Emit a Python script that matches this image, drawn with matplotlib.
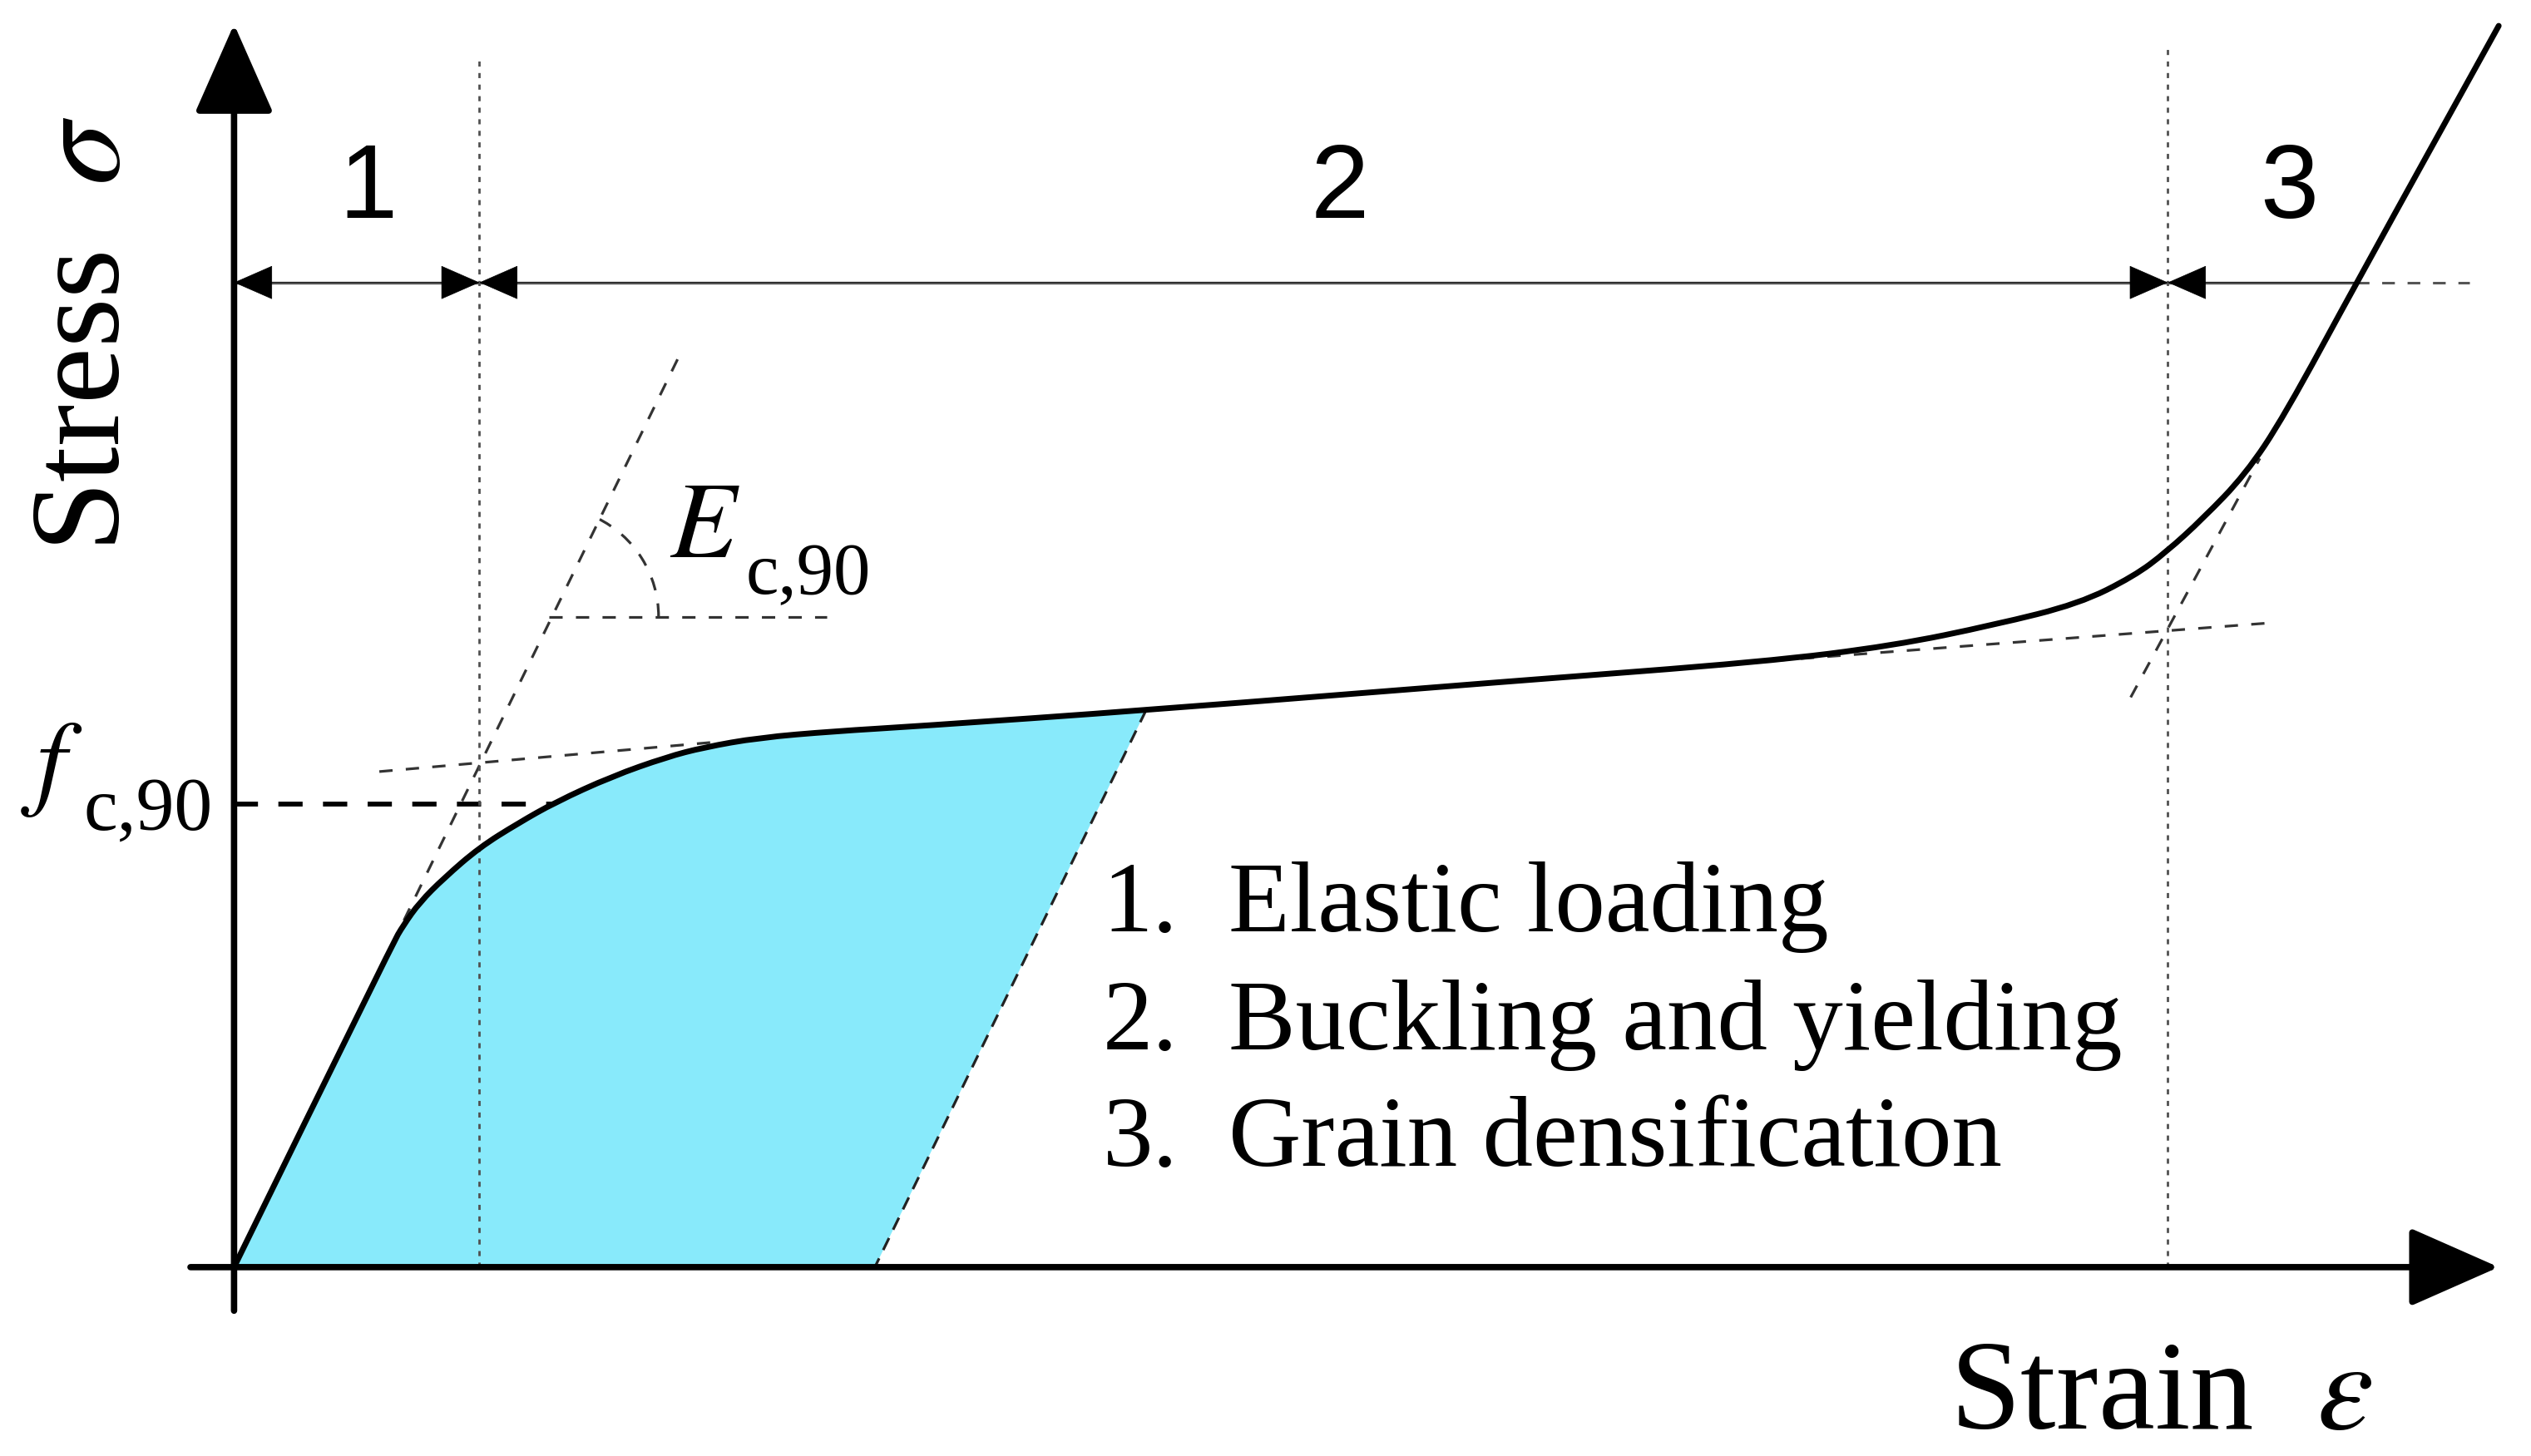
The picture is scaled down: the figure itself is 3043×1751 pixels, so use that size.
import numpy as np
import matplotlib
matplotlib.use("Agg")
import matplotlib.pyplot as plt
from matplotlib.patches import Arc, PathPatch
from matplotlib.path import Path

plt.rcParams['font.family'] = ['Liberation Serif', 'DejaVu Serif']
plt.rcParams['mathtext.fontset'] = 'stix'

# stress-strain curve (schematic units)
strain = [0.00, 0.98, 1.05, 1.15, 1.30, 1.52, 1.76, 1.99, 2.34, 2.68, 2.91, 3.25,
          3.72, 4.22, 5.65, 7.91, 9.48, 10.28, 10.91, 11.43, 11.77, 11.97, 12.20,
          12.46, 12.70, 13.15, 14.03]
stress = [0.00, 2.00, 2.12, 2.26, 2.41, 2.60, 2.75, 2.88, 3.04, 3.16, 3.22, 3.28,
          3.32, 3.35, 3.45, 3.63, 3.75, 3.85, 3.98, 4.11, 4.28, 4.43, 4.64,
          4.91, 5.27, 6.10, 7.69]

unload_at = 14          # index of the unloading point on the curve
unload_end = 3.97       # residual strain after unloading
f_c90 = 2.87
b1, b2 = 1.52, 11.98    # region boundaries
dim_y = 6.10

region_labels = ['1', '2', '3']
region_x = [0.83, 6.85, 12.73]
legend_items = ['Elastic loading', 'Buckling and yielding', 'Grain densification']
legend_y = [2.08, 1.35, 0.63]

cyan = '#88EAFB'
grey = '#505050'

fig = plt.figure(figsize=(30.43, 17.51), dpi=100)
ax = fig.add_axes([0, 0, 1, 1])
ax.set_xlim(-1.45, 14.23)
ax.set_ylim(-1.17, 7.85)
ax.axis('off')

# shaded energy area
fx = strain[:unload_at + 1] + [unload_end]
fy = stress[:unload_at + 1] + [0.0]
ax.fill(fx, fy, color=cyan, lw=0, zorder=1)

# unloading line
ax.plot([strain[unload_at], unload_end], [stress[unload_at], 0], color='#222222',
        lw=2.3, dashes=(5, 3.5), zorder=3)

# construction lines
dash = dict(color='#333333', lw=2.3, dashes=(5, 5), zorder=2)
ax.plot([0.98, 2.77], [2.00, 5.67], **dash)           # elastic tangent
ax.plot([0.90, 2.95], [3.07, 3.25], **dash)           # plateau tangent
ax.plot([1.95, 3.67], [4.03, 4.03], **dash)           # E reference
ax.add_patch(Arc((1.95, 4.03), 1.36, 1.36, theta1=0, theta2=64,
                 color='#333333', lw=2.3, ls=(0, (5, 5)), zorder=2))
ax.plot([9.05, 12.60], [3.72, 3.99], **dash)          # plateau tangent (3)
ax.plot([11.75, 12.55], [3.53, 5.01], **dash)         # densification tangent
ax.plot([0, 1.97], [f_c90, f_c90], color='black', lw=4.2, dashes=(5, 4.2), zorder=2)

# region boundaries
ax.plot([b1, b1], [0, 7.48], color=grey, lw=2.0, dashes=(2.2, 2.8), zorder=2)
ax.plot([b2, b2], [0, 7.55], color=grey, lw=2.0, dashes=(2.2, 2.8), zorder=2)

# dimension line
ax.plot([0, 13.15], [dim_y, dim_y], color='#555555', lw=2.4, zorder=2)
ax.plot([13.15, 13.85], [dim_y, dim_y], color='#555555', lw=2.2, dashes=(5, 5), zorder=2)
ap = dict(arrowstyle='<|-|>,head_length=32,head_width=14', mutation_scale=1,
          color='black', lw=0.5, shrinkA=0, shrinkB=0)
ax.annotate('', xy=(0, dim_y), xytext=(b1, dim_y), arrowprops=ap)
ax.annotate('', xy=(b1, dim_y), xytext=(b2, dim_y), arrowprops=ap)
ap1 = dict(ap, arrowstyle='-|>,head_length=32,head_width=14')
ax.annotate('', xy=(b2, dim_y), xytext=(13.15, dim_y), arrowprops=ap1)

# curve: read points used as quadratic bezier controls for a smooth line
pts = np.column_stack([strain, stress])
verts = [pts[0]]
codes = [Path.MOVETO]
for i in range(1, len(pts) - 1):
    verts += [pts[i], (pts[i] + pts[i + 1]) / 2]
    codes += [Path.CURVE3, Path.CURVE3]
verts.append(pts[-1])
codes.append(Path.LINETO)
ax.add_patch(PathPatch(Path(verts, codes), fill=False, edgecolor='black', lw=5,
                       joinstyle='round', capstyle='round', zorder=4))

# axes with arrows
ax_ap = dict(arrowstyle='-|>,head_length=68,head_width=30', mutation_scale=1,
             color='black', lw=5.5, shrinkA=0, shrinkB=0)
ax.annotate('', xy=(0, 7.70), xytext=(0, -0.27), arrowprops=ax_ap, zorder=5)
ax.annotate('', xy=(14.03, 0), xytext=(-0.27, 0), arrowprops=ax_ap, zorder=5)

# text
for lab, x in zip(region_labels, region_x):
    ax.text(x, 6.67, lab, fontsize=91, family='Liberation Sans',
            ha='center', va='center')
for i, (item, y) in enumerate(zip(legend_items, legend_y)):
    ax.text(5.38, y, f'{i + 1}.', fontsize=87, ha='left', va='baseline')
    ax.text(6.16, y, item, fontsize=87, ha='left', va='baseline')

ax.text(-0.90, 5.78, r'Stress  $\sigma$', fontsize=110, rotation=90,
        ha='center', va='center')
ax.text(11.94, -1.00, r'Strain  $\varepsilon$', fontsize=110,
        ha='center', va='baseline')

# f_c,90 and E_c,90 labels
ax.text(-1.32, 2.92, r'$f$', fontsize=92, ha='left', va='baseline')
ax.text(-0.93, 2.71, 'c,90', fontsize=66, ha='left', va='baseline')
ax.text(2.70, 4.40, r'$E$', fontsize=94, ha='left', va='baseline')
ax.text(3.17, 4.17, 'c,90', fontsize=64, ha='left', va='baseline')

fig.savefig('out.png', dpi=100)
